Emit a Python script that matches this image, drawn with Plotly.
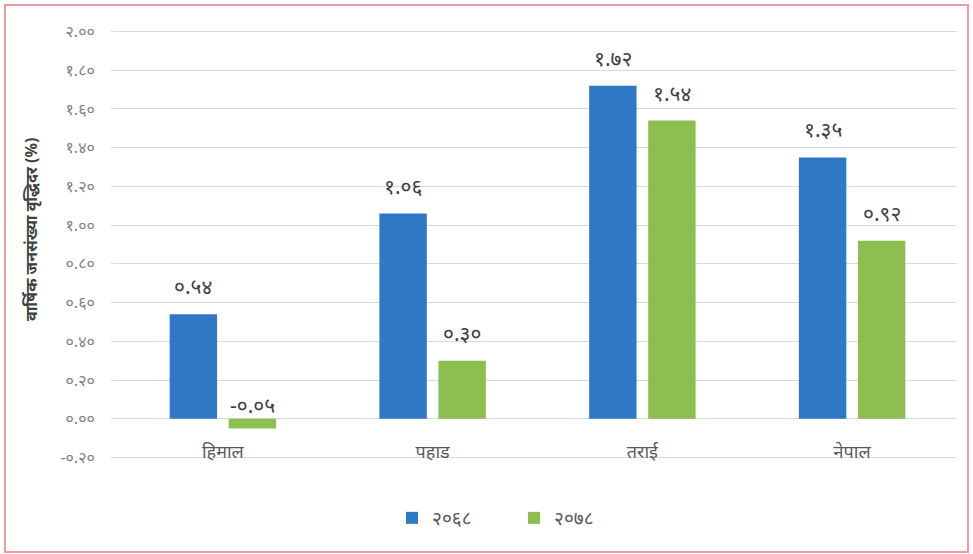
import plotly.graph_objects as go

categories = ["हिमाल", "पहाड", "तराई", "नेपाल"]
series_names = ["२०६८", "२०७८"]
values_2068 = [0.54, 1.06, 1.72, 1.35]
values_2078 = [-0.05, 0.30, 1.54, 0.92]
tick_values = [-0.20, 0.00, 0.20, 0.40, 0.60, 0.80, 1.00, 1.20, 1.40, 1.60, 1.80, 2.00]
y_title = "वार्षिक जनसंख्या वृद्धिदर (%)"

DIG = str.maketrans("0123456789", "०१२३४५६७८९")


def dev(v):
    return f"{v:.2f}".translate(DIG)


colors = ["#2E78C6", "#8CBF4F"]
W, H = 973, 554
ML, MR, MT, MB = 118, 16, 30, 95
FONT = "Noto Sans, Noto Sans Devanagari, Lohit Devanagari, sans-serif"
Y0, Y1 = -0.2, 2.0
pad = 0.008

fig = go.Figure()
for name, vals, col in zip(series_names, [values_2068, values_2078], colors):
    fig.add_trace(go.Bar(x=categories, y=vals, name=name, marker_color=col,
                         marker_line_width=0))

# data labels
for idx, vals in enumerate([values_2068, values_2078]):
    for i, v in enumerate(vals):
        fig.add_annotation(
            x=categories[i], y=max(v, 0), xref="x", yref="y",
            text=dev(v), showarrow=False, yanchor="bottom",
            xshift=(-29.5 if idx == 0 else 29.5),
            yshift=(12 if v >= 0 else -2),
            font=dict(size=21, color="#404040", family=FONT),
        )

pw = W - ML - MR
ph = H - MT - MB
fig.add_annotation(
    x=(18 - ML) / pw, y=(H - MB - 230) / ph, xref="paper", yref="paper",
    text="<b>" + y_title + "</b>",
    textangle=-90, showarrow=False, font=dict(size=16, color="#404040", family=FONT),
)

# outer border
fig.add_shape(type="rect", xref="paper", yref="paper",
              x0=(5 - ML) / pw, x1=(968 - ML) / pw,
              y0=(H - MB - 552) / ph, y1=(H - MB - 5) / ph,
              line=dict(color="#F09AA3", width=2), layer="below")

zero_frac = (0 - (Y0 - pad)) / (Y1 - Y0 + 2 * pad)

fig.update_layout(
    width=W, height=H,
    margin=dict(l=ML, r=MR, t=MT, b=MB, autoexpand=False),
    paper_bgcolor="white", plot_bgcolor="white",
    barmode="group", bargap=0.437, bargroupgap=0.197,
    font=dict(family=FONT),
    legend=dict(orientation="h", xref="container", yref="container",
                x=392 / W, xanchor="left", y=1 - 518 / H, yanchor="middle",
                font=dict(size=19, color="#595959"), itemwidth=30,
                entrywidth=77, entrywidthmode="pixels",
                traceorder="normal"),
    xaxis=dict(anchor="free", position=zero_frac, showline=False, ticks="",
               automargin=False, ticklabelstandoff=20,
               tickfont=dict(size=18, color="#595959", family=FONT)),
    yaxis=dict(range=[Y0 - pad, Y1 + pad], tickvals=tick_values,
               ticktext=[dev(t) for t in tick_values], automargin=False,
               showgrid=True, gridcolor="#D9D9D9", gridwidth=1,
               ticks="outside", ticklen=6, tickcolor="#D9D9D9",
               zeroline=True, zerolinecolor="#D9D9D9", zerolinewidth=1,
               ticklabelstandoff=13,
               tickfont=dict(size=16, color="#7F7F7F", family=FONT)),
)

post = (
    "document.documentElement.style.margin='0';"
    "document.documentElement.style.overflow='hidden';"
    "document.body.style.margin='0';"
    "document.body.style.overflow='hidden';"
    "var d=document.getElementById('{plot_id}');"
    "d.parentElement.style.height='554px';"
    "d.parentElement.style.overflow='hidden';"
)

fig.write_html("out.html", post_script=post,
               config={"displayModeBar": False})
